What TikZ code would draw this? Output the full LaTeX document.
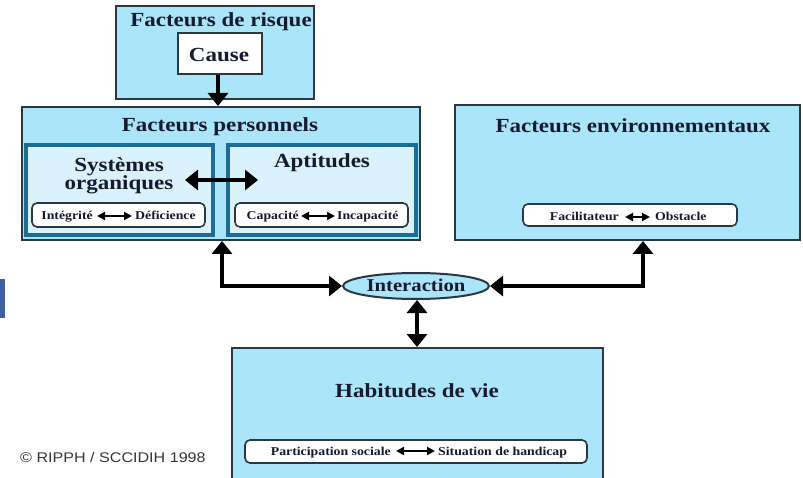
\documentclass[tikz,border=0pt]{standalone}
\usepackage{fontspec}
\setmainfont{Liberation Serif}[FakeStretch=1.15]
\newfontfamily\copyfont{Liberation Sans}[FakeStretch=1.15]
\usetikzlibrary{arrows.meta,shapes.geometric}
\definecolor{bluefill}{RGB}{170,229,249}
\definecolor{subfill}{RGB}{218,242,251}
\definecolor{subborder}{RGB}{28,108,148}
\definecolor{outline}{RGB}{42,56,66}
\definecolor{txt}{RGB}{22,26,46}
\definecolor{barblue}{RGB}{62,96,160}
\definecolor{copygray}{RGB}{55,55,55}
\tikzset{
  bigbox/.style={draw=outline, line width=2pt, fill=bluefill, rectangle, inner sep=0pt},
  subbox/.style={draw=subborder, line width=4pt, fill=subfill, rectangle, inner sep=0pt},
  pill/.style={draw=outline, line width=1.6pt, fill=white, rounded corners=5pt, rectangle, inner sep=0pt},
  title/.style={anchor=base, inner sep=0pt, text=txt, font=\fontsize{20}{22}\selectfont\bfseries},
  small/.style={anchor=base, inner sep=0pt, text=txt, font=\fontsize{12}{13}\selectfont\bfseries},
  bigarr/.style={line width=4.5pt, black, {Triangle[width=20pt,length=13pt]}-{Triangle[width=20pt,length=13pt]}},
  onearr/.style={line width=4.5pt, black, -{Triangle[width=20pt,length=13pt]}},
  smallarr/.style={line width=2pt, black, {Triangle[width=8pt,length=8pt]}-{Triangle[width=8pt,length=8pt]}}
}
\begin{document}
\begin{tikzpicture}[x=1pt,y=-1pt]
\useasboundingbox (0,0) rectangle (803,478);
\fill[white] (0,0) rectangle (803,478);
% left blue bar
\fill[barblue] (0,279) rectangle (5,318);
% boxes
\node[bigbox, minimum width=198pt, minimum height=93pt] (risk) at (215,52.5) {};
\node[draw=outline, line width=2pt, fill=white, inner sep=0pt, minimum width=84pt, minimum height=41pt] (cause) at (220,53.5) {};
\node[bigbox, minimum width=398pt, minimum height=133pt] (pers) at (221,173.5) {};
\node[subbox, minimum width=187pt, minimum height=90pt] (sys) at (119.5,190) {};
\node[subbox, minimum width=188pt, minimum height=90pt] (apt) at (322,190) {};
\node[bigbox, minimum width=345pt, minimum height=135pt] (env) at (627.5,172.5) {};
\node[bigbox, minimum width=371pt, minimum height=134pt] (hab) at (417.5,415) {};
\node[ellipse, draw=outline, line width=2pt, fill=bluefill, inner sep=0pt, minimum width=146pt, minimum height=26pt] (inter) at (416,286) {};
% pills
\node[pill, minimum width=173pt, minimum height=24pt] (ib) at (118.5,215) {};
\node[pill, minimum width=173pt, minimum height=24pt] (cb) at (321.5,215) {};
\node[pill, minimum width=214pt, minimum height=22pt] (fb) at (630,215) {};
\node[pill, minimum width=342pt, minimum height=23pt] (pb) at (416,451.5) {};
% titles
\node[title] (trisk) at (221,27) {Facteurs de risque};
\node[title] (tcause) at (219,62) {Cause};
\node[title] (tpers) at (220,132) {Facteurs personnels};
\node[title] (tsys1) at (119,172) {Systèmes};
\node[title] (tsys2) at (119,190) {organiques};
\node[title] (tapt) at (322,168) {Aptitudes};
\node[title] (tenv) at (633,133) {Facteurs environnementaux};
\node[title] (thab) at (417,397) {Habitudes de vie};
\node[anchor=base, inner sep=0pt, text=txt, font=\fontsize{18}{19}\selectfont\bfseries] (tint) at (416,292) {Interaction};
% small labels
\node[small, anchor=base east] (l1) at (93,220) {Intégrité};
\node[small, anchor=base west] (r1) at (135,220) {Déficience};
\node[small, anchor=base east] (l2) at (299,220) {Capacité};
\node[small, anchor=base west] (r2) at (337,220) {Incapacité};
\node[small, anchor=base east] (l3) at (619,221) {Facilitateur};
\node[small, anchor=base west] (r3) at (655,221) {Obstacle};
\node[small, anchor=base east] (l4) at (391,455) {Participation sociale};
\node[small, anchor=base west] (r4) at (438,455) {Situation de handicap};
\draw[smallarr] ([xshift=4pt]l1.east |- 0,216) -- ([xshift=-3pt]r1.west |- 0,216);
\draw[smallarr] ([xshift=2pt]l2.east |- 0,216) -- ([xshift=-2pt]r2.west |- 0,216);
\draw[smallarr] ([xshift=6pt]l3.east |- 0,217) -- ([xshift=-5pt]r3.west |- 0,217);
\draw[smallarr] ([xshift=5pt]l4.east |- 0,451) -- ([xshift=-3pt]r4.west |- 0,451);
% copyright
\node[anchor=base west, inner sep=0pt, text=copygray, font=\copyfont\fontsize{14}{15}\selectfont] (copy) at (20,462) {© RIPPH / SCCIDIH 1998};
% arrows
\draw[onearr] (cause.south -| 218,0) -- (pers.north -| 218,0);
\coordinate (sa) at (185,180);
\coordinate (sb) at (258,180);
\draw[bigarr] (sa) -- (sb);
\draw[bigarr] (pers.south -| 222,0) |- (inter.west);
\draw[bigarr] (env.south -| 643,0) |- (inter.east);
\draw[bigarr] (inter.south -| 417,0) -- (hab.north -| 417,0);
\end{tikzpicture}
\end{document}
